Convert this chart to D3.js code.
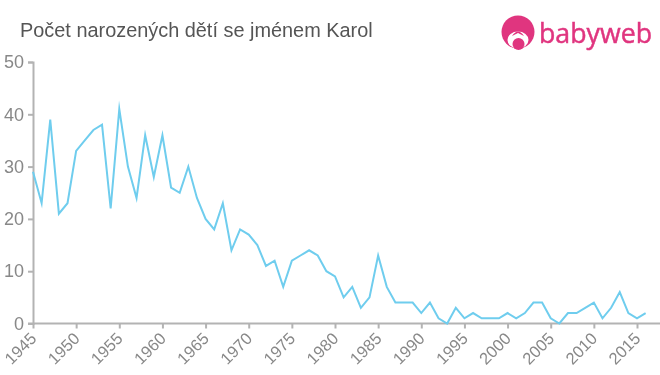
<!DOCTYPE html>
<html>
<head>
<meta charset="utf-8">
<script src="https://cdn.jsdelivr.net/npm/d3@7"></script>
<style>
    html, body { margin: 0; padding: 0; background: #fff; }
    svg { will-change: transform; }
    text { font-family: "Liberation Sans", Arial, sans-serif; }
</style>
</head>
<body>
<div id="chart"></div>
<script>
'use strict';

const years = d3.range(1945, 2017);
const counts = [
    29, 23, 39, 21, 23, 33, 35, 37, 38, 22,
    41, 30, 24, 36, 28, 36, 26, 25, 30, 24,
    20, 18, 23, 14, 18, 17, 15, 11, 12, 7,
    12, 13, 14, 13, 10, 9, 5, 7, 3, 5,
    13, 7, 4, 4, 4, 2, 4, 1, 0, 3,
    1, 2, 1, 1, 1, 2, 1, 2, 4, 4,
    1, 0, 2, 2, 3, 4, 1, 3, 6, 2,
    1, 2
];
const yearTicks = [1945, 1950, 1955, 1960, 1965, 1970, 1975, 1980, 1985, 1990, 1995, 2000, 2005, 2010, 2015];
const countTicks = [0, 10, 20, 30, 40, 50];
const title = 'Počet narozených dětí se jménem Karol';

const width = 660;
const height = 375;

let svg = d3.select('#chart').append('svg')
    .attr('width', width)
    .attr('height', height)
    .style('display', 'block');

let xScale = d3.scaleLinear().domain([1945, 2015]).range([33, 637]);
let yScale = d3.scaleLinear().domain([0, 50]).range([323.5, 62]);

// axes
let xAxis = d3.axisBottom(xScale).tickValues(yearTicks).tickFormat(d3.format('d')).tickSize(5).tickPadding(4);
let yAxis = d3.axisLeft(yScale).tickValues(countTicks).tickSize(5).tickPadding(4);

let xLayer = svg.append('g')
    .attr('transform', 'translate(0,' + yScale(0) + ')')
    .call(xAxis);
let yLayer = svg.append('g')
    .attr('transform', 'translate(' + xScale(1945) + ',0)')
    .call(yAxis);

xLayer.select('.domain').attr('d', 'M' + (xScale(1945) - 5) + ',0H' + width);

[xLayer, yLayer].forEach((layer) => {
    layer.select('.domain').attr('stroke', '#b3b3b3').attr('stroke-width', 2).attr('fill', 'none');
    layer.selectAll('.tick line').attr('stroke', '#b3b3b3').attr('stroke-width', 2);
    layer.selectAll('.tick text').attr('fill', '#888888').style('font-size', '18px').style('font-family', '"Liberation Sans", Arial, sans-serif');
});

xLayer.selectAll('.tick text')
    .style('font-size', '16.5px')
    .attr('text-anchor', 'end')
    .attr('x', 0)
    .attr('y', 0)
    .attr('dy', 0)
    .attr('transform', 'translate(4,16) rotate(-45)');

// line
let line = d3.line()
    .x((d, i) => xScale(years[i]))
    .y((d) => yScale(d));

svg.append('path')
    .datum(counts)
    .attr('d', line)
    .attr('fill', 'none')
    .attr('stroke', '#6fcdee')
    .attr('stroke-width', 2)
    .attr('stroke-miterlimit', 10);

// title
svg.append('text')
    .attr('x', 20)
    .attr('y', 37)
    .attr('fill', '#555555')
    .style('font-size', '19.9px')
    .text(title);

// logo
let logo = svg.append('g').attr('class', 'logo');
logo.append('circle').attr('cx', 518).attr('cy', 32).attr('r', 16.5).attr('fill', '#e0357f');
logo.append('ellipse').attr('cx', 518).attr('cy', 40).attr('rx', 10.5).attr('ry', 8.5).attr('fill', '#ffffff');
logo.append('path').attr('d', 'M512,36Q518,27 524,36L518,33Z').attr('fill', '#e0357f');
logo.append('circle').attr('cx', 518.5).attr('cy', 44).attr('r', 6).attr('fill', '#e0357f');
logo.append('text')
    .attr('x', 539)
    .attr('y', 43)
    .attr('fill', '#e0357f')
    .attr('stroke', '#e0357f')
    .attr('stroke-width', 0.5)
    .style('font-family', '"Open Sans", sans-serif')
    .style('font-size', '28px')
    .attr('textLength', 113)
    .attr('lengthAdjust', 'spacingAndGlyphs')
    .text('babyweb');
</script>
</body>
</html>
